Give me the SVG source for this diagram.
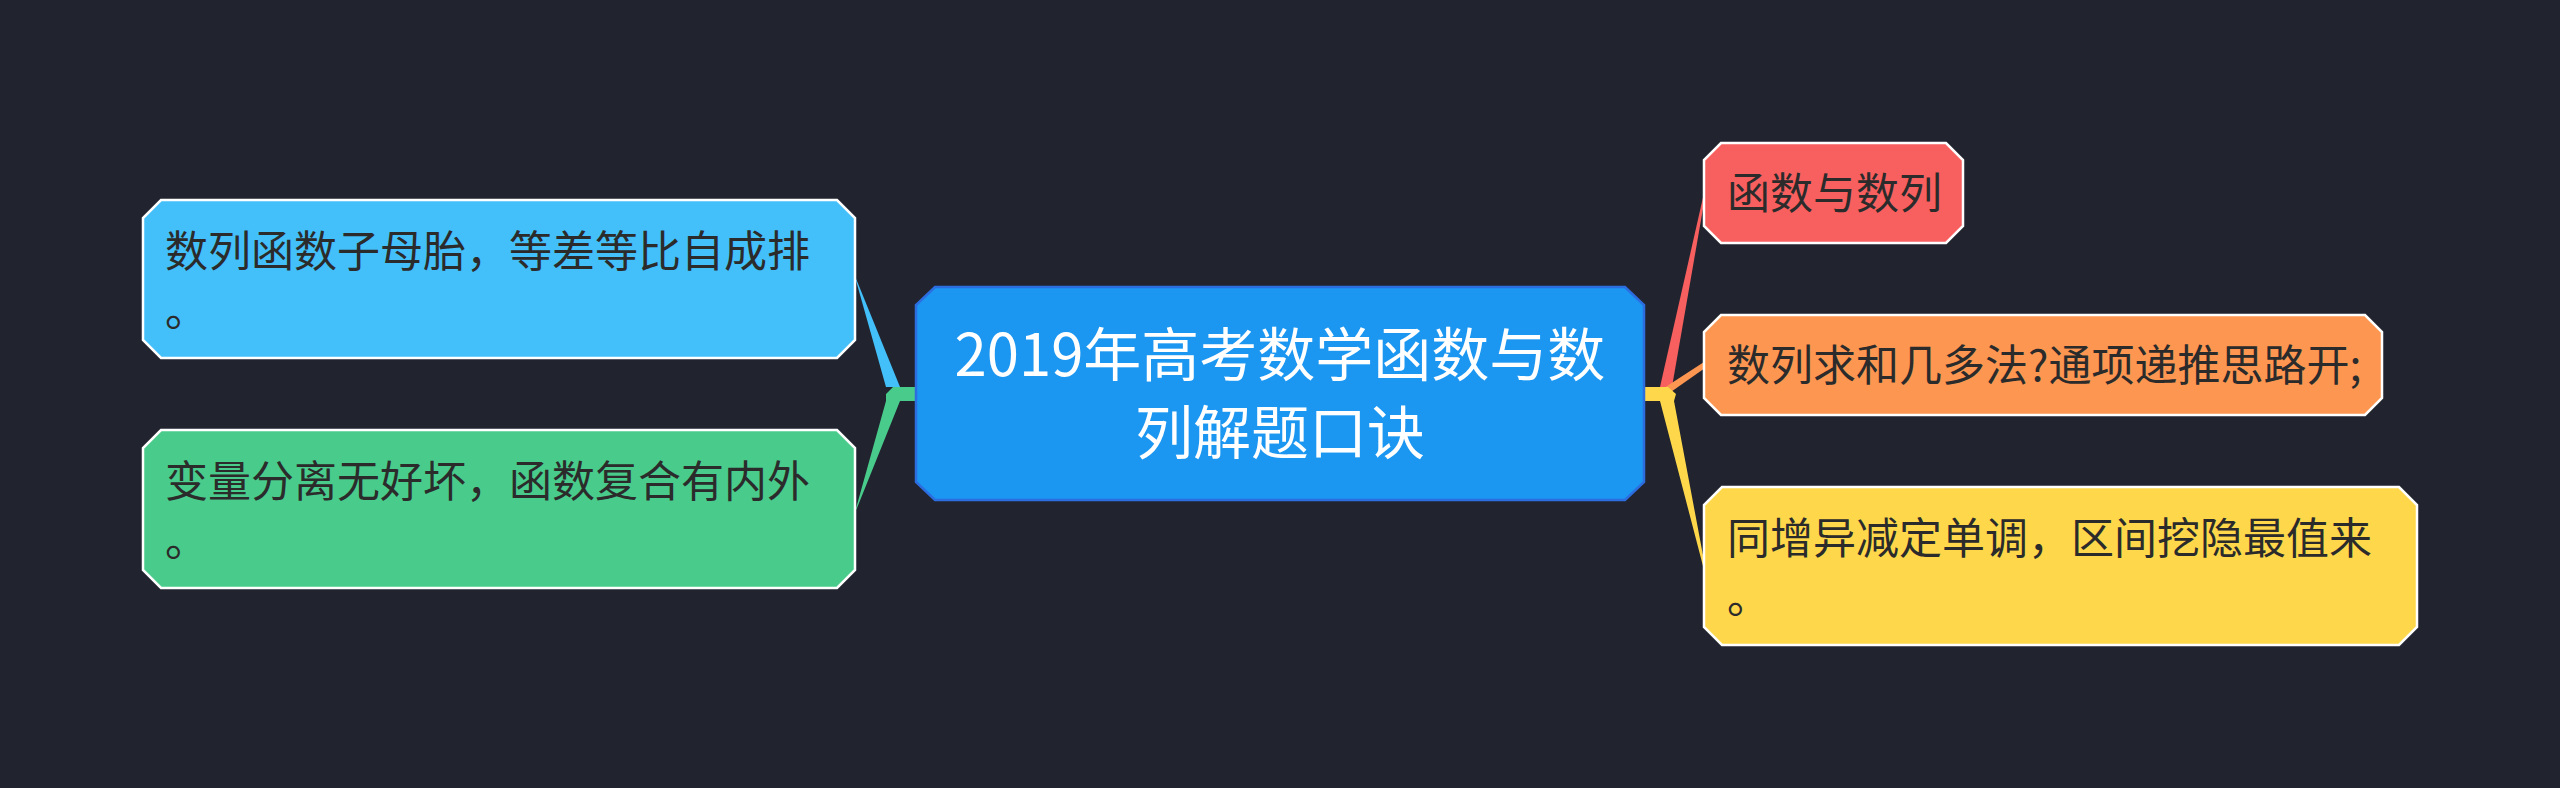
<svg xmlns="http://www.w3.org/2000/svg" width="2560" height="788" viewBox="0 0 2560 788">
<style>
.bg{fill:#21242f}
.t{font-family:"Noto Sans CJK SC","Noto Sans",sans-serif;font-size:43px;fill:#2b2b2b}
.ct{font-family:"Noto Sans CJK SC","Noto Sans",sans-serif;font-size:58px;fill:#ffffff}
.node{stroke:#ffffff;stroke-width:2.5}
</style>
<rect class="bg" x="0" y="0" width="2560" height="788"/>
<g id="connectors">
  <polygon points="855,277 886,387 900,387 857,281" fill="#43bffa"/>
  <polygon points="886,394 893,387 918,387 918,401 900,401 857,508 855,512 886,401" fill="#49cc8b"/>
  <polygon points="1704,193 1660,387 1672,387 1705,197" fill="#f85f5f"/>
  <polygon points="1704,362 1664,388 1668,394 1705,368" fill="#fd9651"/>
  <polygon points="1642,387 1668,387 1676,394 1674,401 1705,566 1703,566 1660,401 1642,401" fill="#fed84a"/>
</g>
<g id="center">
  <path d="M935,287 L1625,287 L1644,305 L1644,482 L1625,500 L935,500 L916,482 L916,305 Z" fill="#1b96f1" stroke="#2c6de0" stroke-width="2.5"/>
  <text class="ct" x="1280" y="376" text-anchor="middle">2019年高考数学函数与数</text>
  <text class="ct" x="1280" y="454" text-anchor="middle">列解题口诀</text>
</g>
<g id="n1">
  <path class="node" d="M161,200 L837,200 L855,218 L855,340 L837,358 L161,358 L143,340 L143,218 Z" fill="#43bffa"/>
  <text class="t" x="165" y="267">数列函数子母胎，等差等比自成排</text>
  <text class="t" x="165" y="326">。</text>
</g>
<g id="n2">
  <path class="node" d="M161,430 L837,430 L855,448 L855,570 L837,588 L161,588 L143,570 L143,448 Z" fill="#49cc8b"/>
  <text class="t" x="165" y="497">变量分离无好坏，函数复合有内外</text>
  <text class="t" x="165" y="556">。</text>
</g>
<g id="n3">
  <path class="node" d="M1721,143 L1946,143 L1963,160 L1963,226 L1946,243 L1721,243 L1704,226 L1704,160 Z" fill="#f85f5f"/>
  <text class="t" x="1727" y="209">函数与数列</text>
</g>
<g id="n4">
  <path class="node" d="M1721,315 L2365,315 L2382,332 L2382,398 L2365,415 L1721,415 L1704,398 L1704,332 Z" fill="#fd9651"/>
  <text class="t" x="1727" y="381">数列求和几多法?通项递推思路开;</text>
</g>
<g id="n5">
  <path class="node" d="M1722,487 L2399,487 L2417,505 L2417,627 L2399,645 L1722,645 L1704,627 L1704,505 Z" fill="#fed84a"/>
  <text class="t" x="1727" y="554">同增异减定单调，区间挖隐最值来</text>
  <text class="t" x="1727" y="613">。</text>
</g>
</svg>
